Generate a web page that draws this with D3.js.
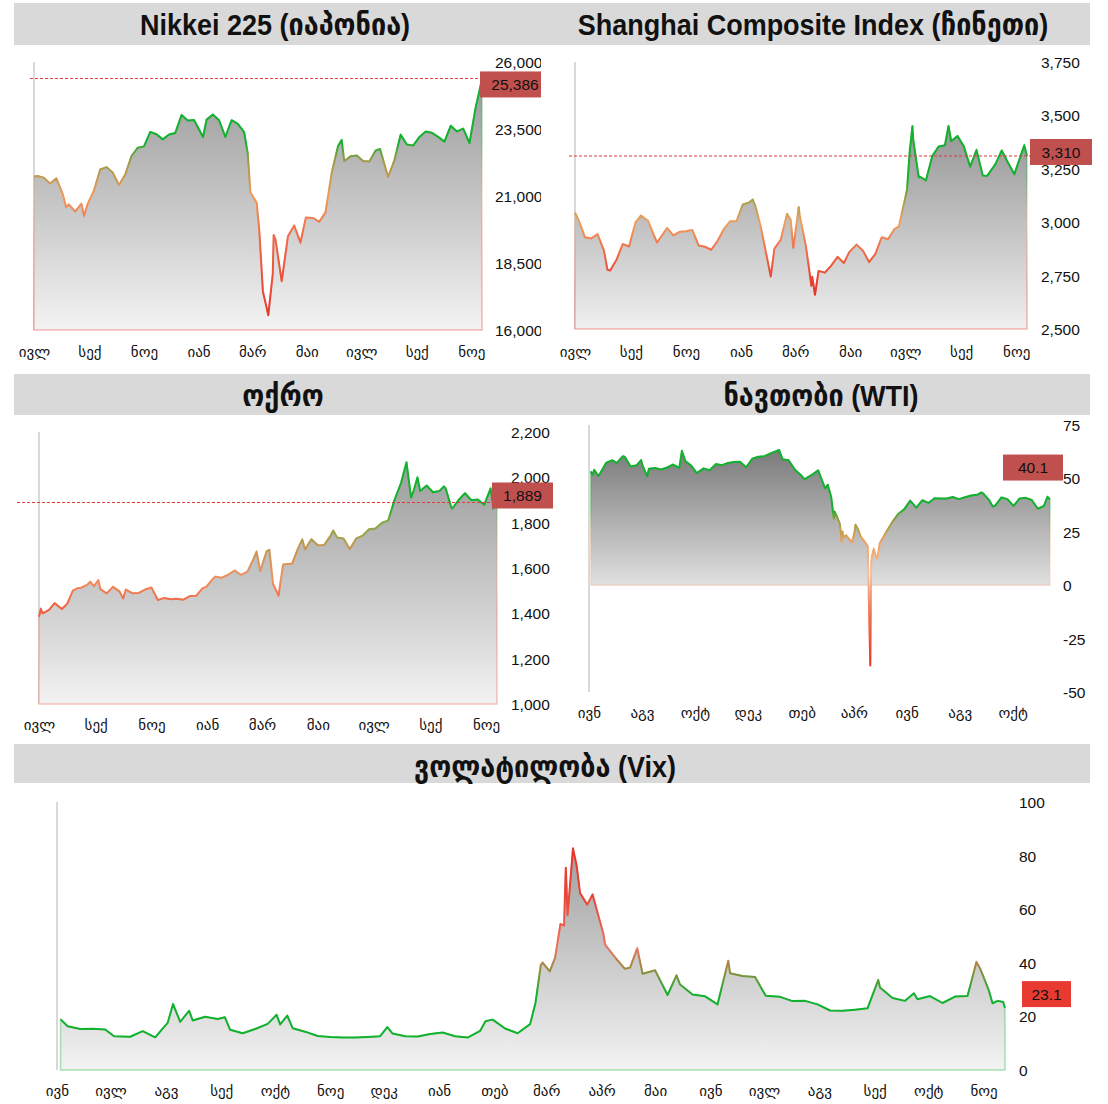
<!DOCTYPE html>
<html>
<head>
<meta charset="utf-8">
<script src="https://cdn.jsdelivr.net/npm/d3@7"></script>
<style>
body { margin: 0; background: #fff; }
svg text { font-family: 'Liberation Sans', Arial, 'DejaVu Sans', sans-serif; fill: #111; }
.title { font-weight: bold; white-space: pre; }
.title.latin { font-family: 'Liberation Sans', Arial, sans-serif; font-size: 30px; }
.title.geo { font-family: 'DejaVu Sans Condensed', 'DejaVu Sans', sans-serif; font-size: 30px; }
</style>
</head>
<body>
<svg id="chart"></svg>
<script>
var width = 1108;
var height = 1104;

var monthNames = ["იან", "თებ", "მარ", "აპრ", "მაი", "ივნ", "ივლ", "აგვ", "სექ", "ოქტ", "ნოე", "დეკ"];

var nikkei = [
  ["2019-07-01", 21730], ["2019-07-05", 21746], ["2019-07-12", 21686], ["2019-07-19", 21467],
  ["2019-07-26", 21658], ["2019-08-02", 21087], ["2019-08-06", 20585], ["2019-08-09", 20685],
  ["2019-08-16", 20418], ["2019-08-23", 20711], ["2019-08-26", 20261], ["2019-08-30", 20704],
  ["2019-09-06", 21200], ["2019-09-13", 21988], ["2019-09-20", 22079], ["2019-09-27", 21879],
  ["2019-10-04", 21410], ["2019-10-11", 21799], ["2019-10-18", 22493], ["2019-10-25", 22800],
  ["2019-11-01", 22851], ["2019-11-08", 23392], ["2019-11-15", 23303], ["2019-11-22", 23113],
  ["2019-11-29", 23294], ["2019-12-06", 23354], ["2019-12-13", 24023], ["2019-12-20", 23817],
  ["2019-12-27", 23838], ["2020-01-06", 23204], ["2020-01-10", 23850], ["2020-01-17", 24041],
  ["2020-01-24", 23827], ["2020-01-31", 23205], ["2020-02-07", 23828], ["2020-02-14", 23688],
  ["2020-02-21", 23387], ["2020-02-25", 22605], ["2020-02-28", 21143], ["2020-03-06", 20750],
  ["2020-03-09", 19699], ["2020-03-13", 17431], ["2020-03-16", 17002], ["2020-03-19", 16553],
  ["2020-03-24", 18092], ["2020-03-25", 19547], ["2020-03-27", 19389], ["2020-04-03", 17820],
  ["2020-04-10", 19499], ["2020-04-17", 19898], ["2020-04-24", 19262], ["2020-04-30", 20194],
  ["2020-05-08", 20179], ["2020-05-15", 20037], ["2020-05-22", 20388], ["2020-05-29", 21878],
  ["2020-06-05", 22864], ["2020-06-09", 23091], ["2020-06-12", 22306], ["2020-06-19", 22479],
  ["2020-06-26", 22512], ["2020-07-03", 22306], ["2020-07-10", 22291], ["2020-07-17", 22696],
  ["2020-07-22", 22751], ["2020-07-31", 21710], ["2020-08-07", 22330], ["2020-08-14", 23289],
  ["2020-08-21", 22920], ["2020-08-28", 22882], ["2020-09-04", 23205], ["2020-09-11", 23406],
  ["2020-09-18", 23360], ["2020-09-25", 23205], ["2020-10-02", 23030], ["2020-10-09", 23620],
  ["2020-10-16", 23411], ["2020-10-23", 23517], ["2020-10-30", 22977], ["2020-11-06", 24325],
  ["2020-11-10", 24905], ["2020-11-13", 25386]
];

var shanghai = [
  ["2019-07-01", 3044], ["2019-07-05", 3011], ["2019-07-12", 2930], ["2019-07-19", 2924],
  ["2019-07-26", 2944], ["2019-08-02", 2868], ["2019-08-06", 2777], ["2019-08-09", 2774],
  ["2019-08-16", 2824], ["2019-08-23", 2898], ["2019-08-30", 2886], ["2019-09-06", 2999],
  ["2019-09-12", 3031], ["2019-09-20", 3006], ["2019-09-27", 2933], ["2019-09-30", 2905],
  ["2019-10-11", 2973], ["2019-10-18", 2938], ["2019-10-25", 2955], ["2019-11-01", 2958],
  ["2019-11-08", 2964], ["2019-11-15", 2891], ["2019-11-22", 2885], ["2019-11-29", 2871],
  ["2019-12-06", 2912], ["2019-12-13", 2968], ["2019-12-20", 3005], ["2019-12-27", 3005],
  ["2019-12-31", 3050], ["2020-01-03", 3083], ["2020-01-10", 3092], ["2020-01-14", 3106],
  ["2020-01-17", 3075], ["2020-01-23", 2977], ["2020-02-03", 2746], ["2020-02-07", 2876],
  ["2020-02-14", 2917], ["2020-02-21", 3039], ["2020-02-25", 3013], ["2020-02-28", 2880],
  ["2020-03-05", 3071], ["2020-03-06", 3034], ["2020-03-13", 2887], ["2020-03-19", 2702],
  ["2020-03-20", 2745], ["2020-03-23", 2660], ["2020-03-27", 2772], ["2020-04-03", 2764],
  ["2020-04-10", 2797], ["2020-04-17", 2838], ["2020-04-24", 2809], ["2020-04-30", 2860],
  ["2020-05-08", 2895], ["2020-05-15", 2868], ["2020-05-22", 2813], ["2020-05-29", 2852],
  ["2020-06-05", 2930], ["2020-06-12", 2920], ["2020-06-19", 2968], ["2020-06-24", 2980],
  ["2020-07-03", 3152], ["2020-07-06", 3332], ["2020-07-09", 3450], ["2020-07-10", 3384],
  ["2020-07-16", 3210], ["2020-07-17", 3214], ["2020-07-24", 3196], ["2020-07-31", 3310],
  ["2020-08-07", 3354], ["2020-08-14", 3360], ["2020-08-18", 3451], ["2020-08-21", 3380],
  ["2020-08-28", 3404], ["2020-09-04", 3355], ["2020-09-11", 3260], ["2020-09-18", 3338],
  ["2020-09-25", 3219], ["2020-09-30", 3218], ["2020-10-09", 3272], ["2020-10-16", 3336],
  ["2020-10-23", 3278], ["2020-10-30", 3225], ["2020-11-06", 3312], ["2020-11-10", 3360],
  ["2020-11-13", 3310]
];

var gold = [
  ["2019-07-01", 1385], ["2019-07-03", 1420], ["2019-07-05", 1400], ["2019-07-12", 1415],
  ["2019-07-18", 1445], ["2019-07-26", 1419], ["2019-08-01", 1443], ["2019-08-07", 1500],
  ["2019-08-13", 1512], ["2019-08-16", 1513], ["2019-08-23", 1527], ["2019-08-26", 1540],
  ["2019-08-30", 1520], ["2019-09-04", 1547], ["2019-09-06", 1507], ["2019-09-13", 1488],
  ["2019-09-20", 1517], ["2019-09-27", 1497], ["2019-10-01", 1466], ["2019-10-04", 1505],
  ["2019-10-11", 1489], ["2019-10-18", 1490], ["2019-10-25", 1505], ["2019-11-01", 1514],
  ["2019-11-08", 1459], ["2019-11-15", 1468], ["2019-11-22", 1462], ["2019-11-29", 1464],
  ["2019-12-06", 1460], ["2019-12-13", 1476], ["2019-12-20", 1478], ["2019-12-27", 1511],
  ["2019-12-31", 1517], ["2020-01-08", 1556], ["2020-01-10", 1562], ["2020-01-17", 1557],
  ["2020-01-24", 1571], ["2020-01-31", 1589], ["2020-02-07", 1570], ["2020-02-14", 1584],
  ["2020-02-21", 1643], ["2020-02-24", 1672], ["2020-02-28", 1586], ["2020-03-06", 1674],
  ["2020-03-09", 1680], ["2020-03-13", 1530], ["2020-03-19", 1478], ["2020-03-24", 1615],
  ["2020-03-27", 1617], ["2020-04-03", 1620], ["2020-04-09", 1683], ["2020-04-14", 1726],
  ["2020-04-17", 1683], ["2020-04-24", 1727], ["2020-05-01", 1700], ["2020-05-08", 1702],
  ["2020-05-15", 1743], ["2020-05-18", 1765], ["2020-05-22", 1735], ["2020-05-29", 1730],
  ["2020-06-05", 1684], ["2020-06-12", 1730], ["2020-06-19", 1743], ["2020-06-26", 1771],
  ["2020-07-03", 1774], ["2020-07-10", 1799], ["2020-07-17", 1810], ["2020-07-24", 1902],
  ["2020-07-31", 1975], ["2020-08-06", 2067], ["2020-08-07", 2035], ["2020-08-11", 1911],
  ["2020-08-14", 1944], ["2020-08-18", 2000], ["2020-08-21", 1940], ["2020-08-28", 1964],
  ["2020-09-04", 1934], ["2020-09-11", 1940], ["2020-09-16", 1960], ["2020-09-18", 1950],
  ["2020-09-24", 1868], ["2020-09-25", 1862], ["2020-10-02", 1900], ["2020-10-09", 1930],
  ["2020-10-16", 1899], ["2020-10-23", 1902], ["2020-10-30", 1879], ["2020-11-06", 1951],
  ["2020-11-09", 1862], ["2020-11-13", 1889]
];

var wti = [
  ["2019-06-03", 53.3], ["2019-06-05", 51.7], ["2019-06-07", 54.0], ["2019-06-12", 51.1],
  ["2019-06-14", 52.5], ["2019-06-21", 57.4], ["2019-06-28", 58.5], ["2019-07-03", 57.3],
  ["2019-07-10", 60.4], ["2019-07-12", 60.2], ["2019-07-19", 55.6], ["2019-07-26", 56.2],
  ["2019-07-31", 58.6], ["2019-08-02", 55.7], ["2019-08-07", 51.1], ["2019-08-09", 54.5],
  ["2019-08-16", 54.9], ["2019-08-23", 54.2], ["2019-08-30", 55.1], ["2019-09-06", 56.5],
  ["2019-09-13", 54.9], ["2019-09-16", 62.9], ["2019-09-20", 58.1], ["2019-09-27", 55.9],
  ["2019-10-03", 52.5], ["2019-10-11", 54.7], ["2019-10-18", 53.8], ["2019-10-25", 56.7],
  ["2019-11-01", 56.2], ["2019-11-08", 57.2], ["2019-11-15", 57.7], ["2019-11-22", 57.8],
  ["2019-11-29", 55.2], ["2019-12-06", 59.2], ["2019-12-13", 60.1], ["2019-12-20", 60.4],
  ["2019-12-27", 61.7], ["2020-01-06", 63.3], ["2020-01-10", 59.0], ["2020-01-17", 58.5],
  ["2020-01-24", 54.2], ["2020-01-31", 51.6], ["2020-02-04", 49.6], ["2020-02-07", 50.3],
  ["2020-02-14", 52.0], ["2020-02-20", 53.8], ["2020-02-28", 45.3], ["2020-03-02", 47.0],
  ["2020-03-06", 41.3], ["2020-03-09", 31.1], ["2020-03-10", 34.4], ["2020-03-13", 31.7],
  ["2020-03-16", 28.7], ["2020-03-18", 20.4], ["2020-03-19", 25.2], ["2020-03-20", 22.4],
  ["2020-03-23", 23.4], ["2020-03-27", 21.5], ["2020-03-30", 20.1], ["2020-04-02", 25.3],
  ["2020-04-03", 28.3], ["2020-04-06", 26.1], ["2020-04-09", 22.8], ["2020-04-14", 20.1],
  ["2020-04-17", 18.3], ["2020-04-20", -37.6], ["2020-04-21", 10.0], ["2020-04-22", 13.8],
  ["2020-04-24", 16.9], ["2020-04-27", 12.8], ["2020-04-28", 12.3], ["2020-05-01", 19.8],
  ["2020-05-08", 24.7], ["2020-05-15", 29.4], ["2020-05-22", 33.3], ["2020-05-29", 35.5],
  ["2020-06-05", 39.6], ["2020-06-12", 36.3], ["2020-06-19", 39.8], ["2020-06-26", 38.5],
  ["2020-07-03", 40.7], ["2020-07-10", 40.6], ["2020-07-17", 40.6], ["2020-07-24", 41.3],
  ["2020-07-31", 40.3], ["2020-08-07", 41.2], ["2020-08-14", 42.0], ["2020-08-21", 42.3],
  ["2020-08-26", 43.4], ["2020-08-28", 43.0], ["2020-09-04", 39.8], ["2020-09-08", 36.8],
  ["2020-09-11", 37.3], ["2020-09-18", 41.1], ["2020-09-25", 40.3], ["2020-10-02", 37.1],
  ["2020-10-09", 40.6], ["2020-10-16", 40.9], ["2020-10-23", 39.9], ["2020-10-30", 35.8],
  ["2020-11-06", 37.1], ["2020-11-10", 41.4], ["2020-11-13", 40.1]
];

var vix = [
  ["2019-06-03", 18.9], ["2019-06-07", 16.3], ["2019-06-14", 15.3], ["2019-06-21", 15.4],
  ["2019-06-28", 15.1], ["2019-07-03", 12.6], ["2019-07-12", 12.4], ["2019-07-19", 14.5],
  ["2019-07-26", 12.2], ["2019-07-31", 16.1], ["2019-08-02", 17.6], ["2019-08-05", 24.6],
  ["2019-08-09", 18.0], ["2019-08-14", 22.1], ["2019-08-16", 18.5], ["2019-08-23", 19.9],
  ["2019-08-30", 19.0], ["2019-09-03", 19.7], ["2019-09-06", 15.0], ["2019-09-13", 13.7],
  ["2019-09-20", 15.3], ["2019-09-27", 17.2], ["2019-10-02", 20.6], ["2019-10-04", 17.0],
  ["2019-10-08", 20.3], ["2019-10-11", 15.6], ["2019-10-18", 14.3], ["2019-10-25", 12.7],
  ["2019-11-01", 12.3], ["2019-11-08", 12.1], ["2019-11-15", 12.1], ["2019-11-22", 12.3],
  ["2019-11-29", 12.6], ["2019-12-03", 16.0], ["2019-12-06", 13.6], ["2019-12-13", 12.6],
  ["2019-12-20", 12.5], ["2019-12-27", 13.4], ["2020-01-03", 14.0], ["2020-01-10", 12.6],
  ["2020-01-17", 12.1], ["2020-01-24", 14.6], ["2020-01-27", 18.2], ["2020-01-31", 18.8],
  ["2020-02-07", 15.5], ["2020-02-14", 13.7], ["2020-02-21", 17.1], ["2020-02-24", 25.0],
  ["2020-02-27", 39.2], ["2020-02-28", 40.1], ["2020-03-03", 36.8], ["2020-03-06", 41.9],
  ["2020-03-09", 54.5], ["2020-03-11", 53.9], ["2020-03-12", 75.5], ["2020-03-13", 57.8],
  ["2020-03-16", 82.7], ["2020-03-18", 76.5], ["2020-03-20", 66.0], ["2020-03-24", 61.7],
  ["2020-03-27", 65.5], ["2020-04-02", 50.9], ["2020-04-03", 46.8], ["2020-04-09", 41.7],
  ["2020-04-14", 37.8], ["2020-04-17", 38.2], ["2020-04-21", 45.4], ["2020-04-24", 35.9],
  ["2020-05-01", 37.2], ["2020-05-08", 28.0], ["2020-05-13", 35.3], ["2020-05-15", 31.9],
  ["2020-05-22", 28.2], ["2020-05-29", 27.5], ["2020-06-05", 24.5], ["2020-06-11", 40.8],
  ["2020-06-12", 36.1], ["2020-06-19", 35.1], ["2020-06-26", 34.7], ["2020-07-02", 27.7],
  ["2020-07-10", 27.3], ["2020-07-17", 25.7], ["2020-07-24", 25.8], ["2020-07-31", 24.5],
  ["2020-08-07", 22.2], ["2020-08-14", 22.1], ["2020-08-21", 22.5], ["2020-08-28", 23.0],
  ["2020-09-03", 33.6], ["2020-09-04", 30.8], ["2020-09-11", 26.9], ["2020-09-18", 25.8],
  ["2020-09-23", 28.6], ["2020-09-25", 26.4], ["2020-10-02", 27.6], ["2020-10-09", 25.0],
  ["2020-10-16", 27.4], ["2020-10-23", 27.6], ["2020-10-28", 40.3], ["2020-10-30", 38.0],
  ["2020-11-04", 29.6], ["2020-11-06", 24.9], ["2020-11-09", 25.8], ["2020-11-12", 25.4],
  ["2020-11-13", 23.1]
];

var nikkeiTicks = [16000, 18500, 21000, 23500, 26000];
var shanghaiTicks = [2500, 2750, 3000, 3250, 3500, 3750];
var goldTicks = [1000, 1200, 1400, 1600, 1800, 2000, 2200];
var wtiTicks = [-50, -25, 0, 25, 50, 75];
var vixTicks = [0, 20, 40, 60, 80, 100];

var red = "#e8382c", green = "#12b12e";

var parse = d3.timeParse("%Y-%m-%d");

var svg = d3.select('#chart')
    .attr('width', width)
    .attr('height', height);

var defs = svg.append('defs');

// grey title bars
[[3, 42], [374, 41], [744, 39]].forEach(function(b) {
  svg.append('rect')
      .attr('x', 14).attr('y', b[0])
      .attr('width', 1076).attr('height', b[1])
      .attr('fill', '#d9d9d9');
});

var panels = [
  { id: 'nikkei', title: 'Nikkei 225 (იაპონია)', titleX: 275, titleY: 35,
    data: nikkei, start: '2019-07-01', step: 2,
    left: 34, right: 482, top: 62, bottom: 330, yDomain: [16000, 26000], yTicks: nikkeiTicks,
    yLabelX: 495, monthY: 357, base: 16000, fmt: d3.format(','), badgeFmt: d3.format(',.0f'),
    colors: [[16500, red], [19500, '#f06a48'], [21000, '#f09a5a'], [22300, '#a09a48'], [23000, green]],
    fillTop: '#9a9a9a', fillBottom: '#f3f3f3',
    badge: { x: 480, w: 70, dy: 6, fill: '#c0504d' }, dash: 30, clip: 541 },
  { id: 'shanghai', title: 'Shanghai Composite Index (ჩინეთი)', titleX: 813, titleY: 35,
    data: shanghai, start: '2019-07-01', step: 2,
    left: 575, right: 1027, top: 62, bottom: 329, yDomain: [2500, 3750], yTicks: shanghaiTicks,
    yLabelX: 1041, monthY: 357, base: 2500, fmt: d3.format(','), badgeFmt: d3.format(',.0f'),
    colors: [[2700, red], [2900, '#f07a50'], [3000, '#f0a060'], [3110, '#a0a048'], [3200, green]],
    fillTop: '#959595', fillBottom: '#f0f0f0',
    badge: { x: 1030, w: 62, dy: -4, fill: '#c0504d' }, dash: 569 },
  { id: 'gold', title: 'ოქრო', titleX: 283, titleY: 406,
    data: gold, start: '2019-07-01', step: 2,
    left: 39, right: 497, top: 432, bottom: 704, yDomain: [1000, 2200], yTicks: goldTicks,
    yLabelX: 511, monthY: 730, base: 1000, fmt: d3.format(','), badgeFmt: d3.format(',.0f'),
    colors: [[1420, '#f06040'], [1550, '#f09060'], [1700, '#c09850'], [1800, '#80a840'], [1880, green]],
    fillTop: '#9c9c9c', fillBottom: '#f2f2f2',
    badge: { x: 492, w: 61, dy: -7, fill: '#c0504d' }, dash: 17 },
  { id: 'wti', title: 'ნავთობი (WTI)', titleX: 821, titleY: 406,
    data: wti, start: '2019-06-01', step: 2,
    left: 589, right: 1050, top: 425, bottom: 692, yDomain: [-50, 75], yTicks: wtiTicks,
    yLabelX: 1063, monthY: 718, base: 0, fmt: function(d) { return String(d); }, badgeFmt: d3.format('.1f'),
    colors: [[-37, red], [-15, '#f07050'], [5, '#f8c0a0'], [20, '#f0a060'], [30, '#9aa040'], [36, green]],
    fillTop: '#7a7a7a', fillBottom: '#e0e0e0',
    badge: { x: 1003, w: 60, dy: -32, fill: '#c0504d' }, dash: null },
  { id: 'vix', title: 'ვოლატილობა (Vix)', titleX: 545, titleY: 777,
    data: vix, start: '2019-06-01', step: 1,
    left: 57, right: 1005, top: 802, bottom: 1070, yDomain: [0, 100], yTicks: vixTicks,
    yLabelX: 1019, monthY: 1096, base: 0, fmt: function(d) { return String(d); }, badgeFmt: d3.format('.1f'),
    colors: [[28, green], [38, '#a08a40'], [46, '#f07060'], [65, '#e84535'], [80, red]],
    fillTop: '#a0a0a0', fillBottom: '#f3f3f3',
    badge: { x: 1022, w: 49, dy: -14, fill: '#e83a30' }, dash: null }
];

panels.forEach(drawPanel);

// Latin parts of the titles are narrow bold, Georgian parts come from DejaVu
function drawTitle(cfg) {
  var g = svg.append('g');
  var runs = cfg.title.split(/([\u10A0-\u10FF]+)/).filter(function(s) { return s.length > 0; });
  var cursor = 0;
  runs.forEach(function(r) {
    var geo = /[\u10A0-\u10FF]/.test(r);
    var sx = geo ? 1 : 0.9;
    var t = g.append('text')
        .attr('class', geo ? 'title geo' : 'title latin')
        .attr('y', cfg.titleY)
        .text(r);
    var w = t.node().getComputedTextLength() * sx;
    t.attr('transform', 'translate(' + cursor + ',0) scale(' + sx + ',1)');
    cursor += w;
  });
  g.attr('transform', 'translate(' + (cfg.titleX - cursor / 2) + ',0)');
}

function drawPanel(cfg) {
  drawTitle(cfg);

  var g = svg.append('g');
  if (cfg.clip) {
    defs.append('clipPath').attr('id', cfg.id + '-clip')
      .append('rect').attr('x', 0).attr('y', cfg.top - 20)
      .attr('width', cfg.clip).attr('height', cfg.bottom - cfg.top + 60);
    g.attr('clip-path', 'url(#' + cfg.id + '-clip)');
  }

  var data = cfg.data.map(function(d) { return { date: parse(d[0]), value: d[1] }; });
  var last = data[data.length - 1];

  var x = d3.scaleTime()
      .domain([parse(cfg.start), last.date])
      .range([cfg.left, cfg.right]);
  var y = d3.scaleLinear()
      .domain(cfg.yDomain)
      .range([cfg.bottom, cfg.top]);

  var maxV = d3.max(data, function(d) { return d.value; });

  var fill = defs.append('linearGradient')
      .attr('id', cfg.id + '-fill')
      .attr('gradientUnits', 'userSpaceOnUse')
      .attr('x1', 0).attr('x2', 0)
      .attr('y1', y(maxV)).attr('y2', y(cfg.base));
  fill.append('stop').attr('offset', 0).attr('stop-color', cfg.fillTop);
  fill.append('stop').attr('offset', 1).attr('stop-color', cfg.fillBottom);

  var lo = cfg.colors[0][0], hi = cfg.colors[cfg.colors.length - 1][0];
  var stroke = defs.append('linearGradient')
      .attr('id', cfg.id + '-stroke')
      .attr('gradientUnits', 'userSpaceOnUse')
      .attr('x1', 0).attr('x2', 0)
      .attr('y1', y(lo)).attr('y2', y(hi));
  cfg.colors.forEach(function(c) {
    stroke.append('stop')
        .attr('offset', (c[0] - lo) / (hi - lo))
        .attr('stop-color', c[1]);
  });

  // left edge of the plot
  g.append('line')
      .attr('x1', cfg.left).attr('x2', cfg.left)
      .attr('y1', cfg.top).attr('y2', cfg.bottom)
      .attr('stroke', '#d9d9d9')
      .attr('stroke-width', 2);

  var area = d3.area()
      .x(function(d) { return x(d.date); })
      .y0(y(cfg.base))
      .y1(function(d) { return y(d.value); });

  var line = d3.line()
      .x(function(d) { return x(d.date); })
      .y(function(d) { return y(d.value); });

  g.append('path')
      .datum(data)
      .attr('d', area)
      .attr('fill', 'url(#' + cfg.id + '-fill)')
      .attr('stroke', 'url(#' + cfg.id + '-stroke)')
      .attr('stroke-opacity', 0.35)
      .attr('stroke-width', 1.5);

  g.append('path')
      .datum(data)
      .attr('d', line)
      .attr('fill', 'none')
      .attr('stroke', 'url(#' + cfg.id + '-stroke)')
      .attr('stroke-width', 2)
      .attr('stroke-linejoin', 'round');

  // right value axis
  var yAxis = g.append('g')
      .attr('transform', 'translate(' + cfg.yLabelX + ',0)')
      .call(d3.axisRight(y).tickValues(cfg.yTicks).tickSize(0).tickPadding(0).tickFormat(cfg.fmt));
  yAxis.select('.domain').remove();
  yAxis.attr('font-family', null).attr('font-size', null);
  yAxis.selectAll('text')
      .attr('dy', '0.36em')
      .style('font-size', '15.5px');

  // month axis
  var ticks = d3.timeMonth.range(parse(cfg.start), d3.timeDay.offset(last.date, 1), cfg.step);
  var xAxis = svg.append('g')
      .attr('transform', 'translate(0,' + cfg.monthY + ')')
      .call(d3.axisBottom(x).tickValues(ticks).tickSize(0).tickPadding(0)
          .tickFormat(function(d) { return monthNames[d.getMonth()]; }));
  xAxis.select('.domain').remove();
  xAxis.attr('font-family', null).attr('font-size', null);
  xAxis.selectAll('text')
      .attr('dy', 0)
      .style('font-size', '15px');

  // last value marker
  var ly = y(last.value);
  if (cfg.dash !== null) {
    g.append('line')
        .attr('x1', cfg.dash).attr('x2', cfg.badge.x)
        .attr('y1', ly).attr('y2', ly)
        .attr('stroke', '#e03a3a')
        .attr('stroke-width', 1)
        .attr('stroke-dasharray', '3,2');
  }
  g.append('rect')
      .attr('x', cfg.badge.x).attr('y', ly + cfg.badge.dy - 13)
      .attr('width', cfg.badge.w).attr('height', 26)
      .attr('fill', cfg.badge.fill);
  g.append('text')
      .attr('x', cfg.badge.x + cfg.badge.w / 2)
      .attr('y', ly + cfg.badge.dy)
      .attr('dy', '0.36em')
      .attr('text-anchor', 'middle')
      .style('font-size', '15.5px')
      .text(cfg.badgeFmt(last.value));
}
</script>
</body>
</html>
